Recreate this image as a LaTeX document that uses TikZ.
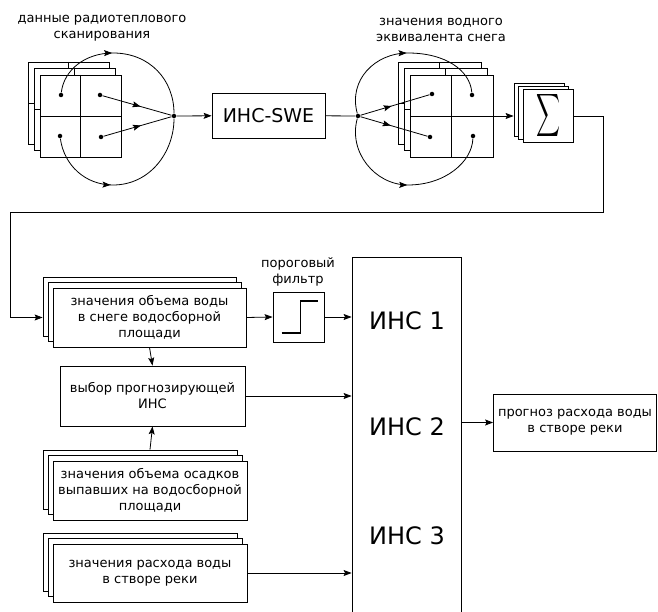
\documentclass[tikz,border=0pt]{standalone}
\usepackage{fontspec}
\setmainfont{DejaVu Sans}
\usepackage{graphicx}
\usepackage{tikz}
\usetikzlibrary{arrows.meta,shadows,decorations.markings}
\newcommand{\smtxt}{\fontsize{13}{16}\selectfont}
\newcommand{\bigtxt}{\fontsize{24}{28}\selectfont}

\begin{document}
\begin{tikzpicture}[x=1pt,y=-1pt,line width=0.8pt,
  arr/.style={-{Stealth[length=8pt,width=6pt,inset=1.5pt]}},
  midarr/.style={decoration={markings,mark=at position #1 with {\arrow{Stealth[length=8pt,width=6pt,inset=1.5pt]}}},postaction=decorate},
  midarr/.default=0.5,
  dot/.style={circle,fill,inner sep=0pt,minimum size=4.5pt},
  box/.style={draw,fill=white,inner sep=0pt,align=center,font=\smtxt},
  stack/.style={box,copy shadow={shadow xshift=-10pt,shadow yshift=11pt},copy shadow={shadow xshift=-5pt,shadow yshift=5.5pt}},
  lbl/.style={align=center,font=\smtxt,inner sep=0pt}]
      \useasboundingbox (0,0) rectangle (658,612);
      \foreach \gx/\gy in {28/62,34/68.5,40/75} {
        \filldraw[fill=white] (\gx,\gy) rectangle ++(81,82);
        \draw (\gx+40.5,\gy) -- ++(0,82);
        \draw (\gx,\gy+41) -- ++(81,0);
      }
      \foreach \gx/\gy in {398/62,404/68.5,410/75} {
        \filldraw[fill=white] (\gx,\gy) rectangle ++(83,82);
        \draw (\gx+41.5,\gy) -- ++(0,82);
        \draw (\gx,\gy+41) -- ++(83,0);
      }
      \node[lbl] (scan) at (102,28) {данные радиотеплового\\сканирования};
      \node[lbl] (swelbl) at (441,29.5) {значения водного\\эквивалента снега};
      \node[dot] (d11) at (61,95) {};
      \node[dot] (d12) at (100,95) {};
      \node[dot] (d13) at (60,136) {};
      \node[dot] (d14) at (101,137) {};
      \node[dot] (j1) at (174,116) {};
      \node[dot] (d21) at (432,94) {};
      \node[dot] (d22) at (472,95) {};
      \node[dot] (d23) at (430,137) {};
      \node[dot] (d24) at (473,136) {};
      \node[dot] (j2) at (358,116) {};
      \coordinate (g2e) at (493,116);
      \draw[midarr=0.42] (d11) .. controls (64,70) and (85,53) .. (113,53) .. controls (150,53) and (174,80) .. (j1);
      \draw[midarr=0.42] (d13) .. controls (64,165) and (85,185) .. (113,185) .. controls (150,185) and (174,152) .. (j1);
      \draw[midarr=0.55] (d12) -- (j1);
      \draw[midarr=0.55] (d14) -- (j1);
      \draw[midarr=0.52] (j2) .. controls (348,80) and (375,53) .. (408,53) .. controls (445,53) and (470,70) .. (d22);
      \draw[midarr=0.52] (j2) .. controls (348,152) and (375,185) .. (408,185) .. controls (445,185) and (472,162) .. (d24);
      \draw[midarr=0.45] (j2) -- (d21);
      \draw[midarr=0.45] (j2) -- (d23);
      \node[box,font=\fontsize{19}{22}\selectfont,minimum width=113pt,minimum height=45pt] (swe) at (268.5,115.5) {ИНС-SWE};
      \node[box,minimum width=50pt,minimum height=53pt,copy shadow={shadow xshift=-9pt,shadow yshift=6pt},copy shadow={shadow xshift=-4.5pt,shadow yshift=3pt}] (sig) at (548,116) {\resizebox{24pt}{33pt}{$\displaystyle\sum$}};
      \draw[arr] (j1) -- (swe);
      \draw (swe) -- (j2);
      \draw[arr] (g2e) -- ([xshift=-9pt]sig.west);
      \coordinate (fb1) at (603,212);
      \coordinate (fb2) at (10,212);
      \node[stack,minimum width=193pt,minimum height=59pt] (snow) at (149.5,317.5) {значения объема воды\\в снеге водосборной\\площади};
      \draw[arr] (sig.east) -| (fb1) -- (fb2) |- ([xshift=-10pt]snow.west);
      \node[box,minimum width=51pt,minimum height=50pt] (filt) at (298.5,317) {};
      \draw[line width=1.4pt] ([shift={(-17,16)}]filt.center) -| ([shift={(2,-16)}]filt.center) -- ([shift={(19,-16)}]filt.center);
      \node[lbl] (filtlbl) at (298,272) {пороговый\\фильтр};
      \node[box,minimum width=109pt,minimum height=360pt] (ann) at (406.5,437) {};
      \node[font=\bigtxt] (ann1) at (407,321) {ИНС 1};
      \node[font=\bigtxt] (ann2) at (407,427) {ИНС 2};
      \node[font=\bigtxt] (ann3) at (407,536) {ИНС 3};
      \node[box,minimum width=185pt,minimum height=60pt] (choose) at (152.5,396) {выбор прогнозирующей\\ИНС};
      \node[stack,minimum width=194pt,minimum height=59pt] (precip) at (150,490.5) {значения объема осадков\\выпавших на водосборной\\площади};
      \node[stack,minimum width=194pt,minimum height=58pt] (flow) at (150,573) {значения расхода воды\\в створе реки};
      \node[box,minimum width=163pt,minimum height=57pt] (out) at (575,422.5) {прогноз расхода воды\\в створе реки};
      \draw[arr] (snow.east) -- (filt.west);
      \draw[arr] (filt.east) -- (filt.east -| ann.west);
      \draw[arr] (snow.south) -- (choose.north);
      \draw[arr] ([yshift=11pt]precip.north) -- (choose.south);
      \draw[arr] (choose.east) -- (choose.east -| ann.west);
      \draw[arr] (flow.east) -- (flow.east -| ann.west);
      \draw[arr] (out.west -| ann.east) -- (out.west);
     \end{tikzpicture}
\end{document}
